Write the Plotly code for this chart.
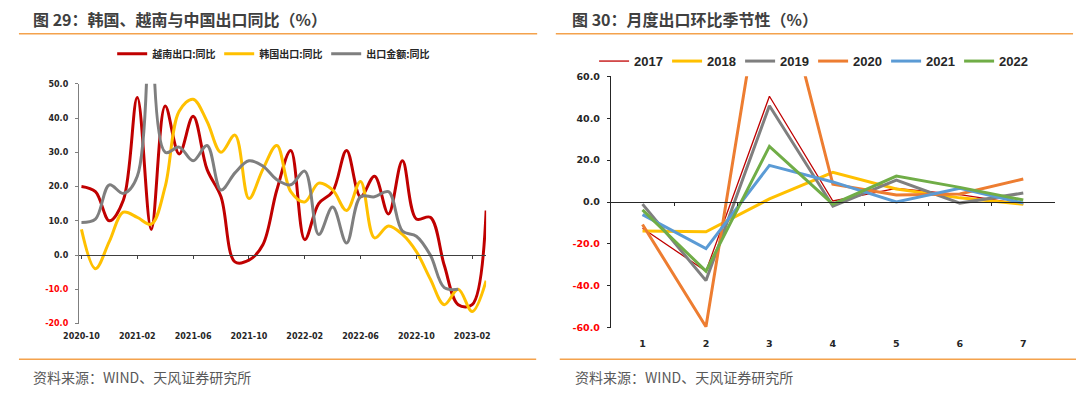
import plotly.graph_objects as go

# ---------------- data ----------------
months = ["2020-10", "2020-11", "2020-12", "2021-01", "2021-02", "2021-03", "2021-04", "2021-05",
          "2021-06", "2021-07", "2021-08", "2021-09", "2021-10", "2021-11", "2021-12", "2022-01",
          "2022-02", "2022-03", "2022-04", "2022-05", "2022-06", "2022-07", "2022-08", "2022-09",
          "2022-10", "2022-11", "2022-12", "2023-01", "2023-02", "2023-03"]
month_ticks = ["2020-10", "2021-02", "2021-06", "2021-10", "2022-02", "2022-06", "2022-10", "2023-02"]

vietnam = [20, 18.5, 10, 16, 46, 7.5, 43.5, 29.5, 40.5, 25, 17, -2, -1.5, 3, 19, 30.5, 4.5, 15,
           18.5, 30.5, 17, 23, 12, 27.5, 10.5, 11, -3, -14.5, -14.5, 13]
korea = [7.5, -4, 4, 12.5, 11, 9, 20, 42, 45.5, 39, 30, 35, 16.5, 25, 32, 18.5, 15.5, 21, 19, 13,
         21.5, 5, 8.5, 6, 1, -7, -14.5, -10, -16.5, -7.5]
china = [9.5, 10.5, 20.5, 18, 23, 150, 30, 31.5, 27.5, 32, 19, 24, 27.5, 26, 22, 20.5, 24.5, 6, 14,
         3.5, 17, 17, 18.5, 7, 5.5, 0, -9.5, -10]

left_names = ["越南出口:同比", "韩国出口:同比", "出口金额:同比"]
left_colors = ["#C00000", "#FFC000", "#7F7F7F"]

mom_x = [1, 2, 3, 4, 5, 6, 7]
years = ["2017", "2018", "2019", "2020", "2021", "2022"]
mom = {
    "2017": [-12.5, -33, 50.5, 0.5, 6.5, 3.5, -1],
    "2018": [-13.8, -14.2, 1.5, 14.2, 6.2, 2, -1],
    "2019": [-1, -37.5, 46, -2, 10.5, -0.5, 4.3],
    "2020": [-10.7, -59.5, 127, 8.5, 3.4, 3.9, 11],
    "2021": [-6, -22.2, 17.5, 9.6, 0, 6.6, -0.5],
    "2022": [-3.7, -33, 26.6, -1, 12.4, 7, 1],
}
year_colors = {"2017": "#C00000", "2018": "#FFC000", "2019": "#7F7F7F",
               "2020": "#ED7D31", "2021": "#5B9BD5", "2022": "#70AD47"}
year_widths = {"2017": 1.3, "2018": 3, "2019": 3, "2020": 3, "2021": 3, "2022": 3}

left_yticks = [-20, -10, 0, 10, 20, 30, 40, 50]
right_yticks = [-60, -40, -20, 0, 20, 40, 60]

# ---------------- layout helpers ----------------
W, H = 1080, 393
def fx(p):
    return p / W
def fy(p):
    return 1 - p / H

CJK = "Noto Sans CJK SC"
NUM = "DejaVu Sans"

def ytext(v):
    s = f"{v:.1f}"
    if v < 0:
        return f"<span style='color:#FF0000'>{s}</span>"
    return s

L_dom_x = [fx(64), fx(479)]
L_dom_y = [fy(326.7), fy(80)]
L_range_y = [-20, 50]
L_range_x = [-0.19, 29]
R_dom_x = [fx(606), fx(1058.6)]
R_dom_y = [fy(331), fy(72.4)]
R_range_y = [-60, 60]
R_range_x = [0.5, 7.5]

def zero_pos(dom, rng):
    return dom[0] + (0 - rng[0]) / (rng[1] - rng[0]) * (dom[1] - dom[0])

fig = go.Figure()

idx = list(range(len(months)))
for name, vals, col in zip(left_names, [vietnam, korea, china], left_colors):
    fig.add_trace(go.Scatter(
        x=idx[:len(vals)], y=vals, name=name, mode="lines",
        line=dict(color=col, width=3, shape="spline", smoothing=1.0),
        xaxis="x", yaxis="y", legend="legend",
    ))
# dummy traces so that the zero-line axes render
fig.add_trace(go.Scatter(x=[None], y=[None], xaxis="x2", yaxis="y", showlegend=False, hoverinfo="skip"))

for yr in years:
    fig.add_trace(go.Scatter(
        x=mom_x, y=mom[yr], name=yr, mode="lines",
        line=dict(color=year_colors[yr], width=year_widths[yr]),
        xaxis="x3", yaxis="y3", legend="legend2",
    ))
fig.add_trace(go.Scatter(x=[None], y=[None], xaxis="x4", yaxis="y3", showlegend=False, hoverinfo="skip"))

tick_idx = [months.index(m) for m in month_ticks]

fig.update_layout(
    width=W, height=H,
    margin=dict(l=0, r=0, t=0, b=0),
    paper_bgcolor="white", plot_bgcolor="rgba(0,0,0,0)",
    showlegend=True,
    xaxis=dict(domain=L_dom_x, range=L_range_x, tickmode="array", tickvals=tick_idx,
               ticktext=month_ticks, showline=False, showgrid=False, zeroline=False, ticks="",
               tickfont=dict(family=NUM, size=8, color="#262626", weight="bold"),
               ticklabelstandoff=6, anchor="y"),
    xaxis2=dict(domain=L_dom_x, range=L_range_x, overlaying="x", anchor="free",
                position=zero_pos(L_dom_y, L_range_y), tickmode="array", tickvals=tick_idx,
                showticklabels=False, ticks="outside", ticklen=3, tickcolor="#404040", tickwidth=1,
                showline=True, linecolor="#404040", linewidth=1, showgrid=False, zeroline=False),
    yaxis=dict(domain=L_dom_y, range=L_range_y, tickmode="array", tickvals=left_yticks,
               ticktext=[ytext(v) for v in left_yticks], showline=True, linecolor="#7F7F7F",
               linewidth=1, ticks="outside", ticklen=3, tickcolor="#7F7F7F", showgrid=False,
               zeroline=False, tickfont=dict(family=NUM, size=8, color="#262626", weight="bold"),
               ticklabelstandoff=5, anchor="x"),
    xaxis3=dict(domain=R_dom_x, range=R_range_x, tickmode="array", tickvals=mom_x,
                ticktext=[str(v) for v in mom_x], showline=False, showgrid=False, zeroline=False,
                ticks="", tickfont=dict(family=NUM, size=9.5, color="#262626", weight="bold"),
                ticklabelstandoff=9, anchor="y3"),
    xaxis4=dict(domain=R_dom_x, range=R_range_x, overlaying="x3", anchor="free",
                position=zero_pos(R_dom_y, R_range_y), tickmode="array",
                tickvals=[1.5, 2.5, 3.5, 4.5, 5.5, 6.5], showticklabels=False, ticks="outside",
                ticklen=3, tickcolor="#262626", tickwidth=1, showline=True, linecolor="#262626",
                linewidth=1, showgrid=False, zeroline=False),
    yaxis3=dict(domain=R_dom_y, range=R_range_y, tickmode="array", tickvals=right_yticks,
                ticktext=[ytext(v) for v in right_yticks], showline=True, linecolor="#262626",
                linewidth=1, ticks="outside", ticklen=3, tickcolor="#262626", showgrid=False,
                zeroline=False, tickfont=dict(family=NUM, size=9.5, color="#262626", weight="bold"),
                ticklabelstandoff=5, anchor="x3"),
    legend=dict(orientation="h", x=fx(98), xanchor="left", y=fy(49), yanchor="middle",
                font=dict(family=CJK, size=10, color="#262626", weight="bold"),
                bgcolor="rgba(0,0,0,0)", itemwidth=30, tracegroupgap=0,
                entrywidth=62, entrywidthmode="pixels"),
    legend2=dict(orientation="h", x=fx(589), xanchor="left", y=fy(56.7), yanchor="middle",
                 font=dict(family="Liberation Sans", size=13, color="#262626", weight="bold"),
                 bgcolor="rgba(0,0,0,0)", itemwidth=30, tracegroupgap=0,
                 entrywidth=28, entrywidthmode="pixels"),
)

# titles and sources
title_font = dict(family=CJK, size=16, color="#404040", weight="bold")
src_font = dict(family=CJK, size=14, color="#595959")
fig.add_annotation(text="图 29：韩国、越南与中国出口同比（%）", x=fx(15), y=fy(13.5), xref="paper",
                   yref="paper", xanchor="left", yanchor="middle", showarrow=False, font=title_font)
fig.add_annotation(text="图 30：月度出口环比季节性（%）", x=fx(564), y=fy(13.5), xref="paper",
                   yref="paper", xanchor="left", yanchor="middle", showarrow=False, font=title_font)
fig.add_annotation(text="资料来源：WIND、天风证券研究所", x=fx(15), y=fy(382), xref="paper",
                   yref="paper", xanchor="left", yanchor="middle", showarrow=False, font=src_font)
fig.add_annotation(text="资料来源：WIND、天风证券研究所", x=fx(567), y=fy(382), xref="paper",
                   yref="paper", xanchor="left", yanchor="middle", showarrow=False, font=src_font)

orange = "#F4A24C"
for (x0, x1, yy) in [(3, 531, 28.5), (550, 1077, 28.5), (3, 530, 363.3), (554, 1080, 363.3)]:
    fig.add_shape(type="line", xref="paper", yref="paper", x0=fx(x0), x1=fx(x1), y0=fy(yy), y1=fy(yy),
                  line=dict(color=orange, width=1.5))

fig.write_html("out.html", config={"displayModeBar": False, "staticPlot": True},
               post_script="document.body.style.margin='0';document.body.style.overflow='hidden';")
